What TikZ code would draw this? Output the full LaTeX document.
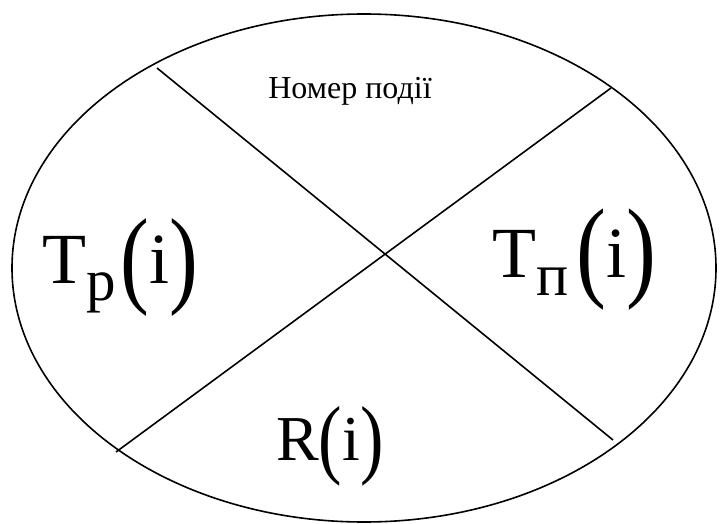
\documentclass[tikz,border=0pt]{standalone}
\usepackage{fontspec}
\setmainfont{Liberation Serif}
\usepackage{graphicx}
\usetikzlibrary{calc}
% big stretched brackets: size, bracket, drop
\newcommand{\bigbr}[3]{\raisebox{-#3pt}{\scalebox{0.8}[1]{\fontsize{#1}{#1}\selectfont #2}}}

\begin{document}
\begin{tikzpicture}[x=1pt,y=-1pt,
    outline/.style={line width=1.6pt},
    lbl/.style={inner sep=0pt,anchor=base west}]
      \useasboundingbox (0,0) rectangle (723,524);
      % Ellipse
      \draw[outline] (364,268) ellipse [x radius=352pt,y radius=254pt];
      % Cross
      \coordinate (nw) at (157,68);
      \coordinate (se) at (613,440);
      \coordinate (sw) at (116,452);
      \coordinate (ne) at (611,88);
      \draw[outline] (nw) -- (se);
      \draw[outline] (sw) -- (ne);
      % Event number
      \node[inner sep=0pt,anchor=base] (num) at (350,99) {\fontsize{32}{32}\selectfont Номер події};
      % Early time
      \node[lbl] (early) at (42,283) {\fontsize{72}{72}\selectfont T\raisebox{-17pt}{\fontsize{59}{59}\selectfont p}\kern5pt\bigbr{108}{(}{10}i\bigbr{108}{)}{10}};
      % Late time
      \node[lbl] (late) at (492,277) {\fontsize{72}{72}\selectfont T\raisebox{-18pt}{\fontsize{60}{60}\selectfont п}\kern8pt\bigbr{112}{(}{9}i\bigbr{112}{)}{9}};
      % Reserve
      \node[lbl] (slack) at (276,460) {\fontsize{64}{64}\selectfont R\bigbr{88}{(}{7}i\bigbr{88}{)}{7}};
    \end{tikzpicture}
\end{document}
